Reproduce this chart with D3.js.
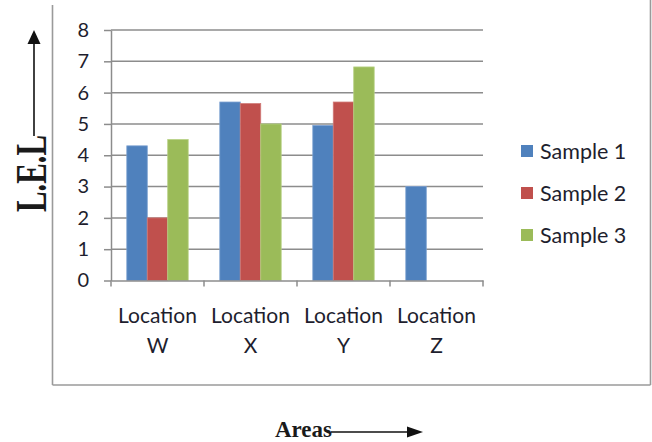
<!DOCTYPE html>
<html>
<head>
<meta charset="utf-8">
<script src="https://cdn.jsdelivr.net/npm/d3@7"></script>
<style>
  html, body { margin: 0; padding: 0; background: #fff; }
  svg { display: block; }
</style>
</head>
<body>
<svg id="chart" width="652" height="442"></svg>
<script>
// L.E.L readings per area, one array per sample
const categories = ["W", "X", "Y", "Z"];
const categoryPrefix = "Location";
const seriesNames = ["Sample 1", "Sample 2", "Sample 3"];
const sample1 = [4.3, 5.7, 4.95, 3.0];
const sample2 = [2.0, 5.65, 5.7, null];
const sample3 = [4.5, 5.0, 6.82, null];
const yTicks = [0, 1, 2, 3, 4, 5, 6, 7, 8];
const seriesColors = ["#4F81BD", "#C0504D", "#9BBB59"];
const seriesEdge = ["#7a9fd0", "#d07a77", "#b6d082"];

const seriesValues = [sample1, sample2, sample3];

const svg = d3.select("#chart");
const tickFont = "Lato, 'Open Sans', sans-serif";
const serif = "'Liberation Serif', 'DejaVu Serif', serif";
const textColor = "#1e1e2e";

// plot area
const plot = { left: 111, right: 483, top: 30, bottom: 280.5 };

const x0 = d3.scaleBand()
  .domain(categories)
  .range([plot.left, plot.right])
  .paddingInner(0.34)
  .paddingOuter(0.17);

const x1 = d3.scaleBand()
  .domain(seriesNames)
  .range([0, x0.bandwidth()]);

const y = d3.scaleLinear()
  .domain([0, 8])
  .range([plot.bottom, plot.top]);

// outer frame of the chart
const frame = svg.append("g").attr("stroke", "#9a9a9a").attr("stroke-width", 1.6).attr("fill", "none");
frame.append("line").attr("x1", 52.5).attr("x2", 52.5).attr("y1", 5).attr("y2", 385);
frame.append("line").attr("x1", 52.5).attr("x2", 650.5).attr("y1", 385).attr("y2", 385);
frame.append("line").attr("x1", 650.5).attr("x2", 650.5).attr("y1", 0).attr("y2", 385);

// horizontal gridlines
svg.append("g")
  .selectAll("line")
  .data(yTicks.filter(d => d > 0))
  .join("line")
  .attr("x1", plot.left)
  .attr("x2", plot.right)
  .attr("y1", d => y(d))
  .attr("y2", d => y(d))
  .attr("stroke", "#8c8c8c")
  .attr("stroke-width", 1.5);

// bars
const groups = svg.append("g")
  .selectAll("g")
  .data(categories)
  .join("g")
  .attr("transform", c => `translate(${x0(c)},0)`);

groups.selectAll("rect")
  .data((c, ci) => seriesNames.map((s, si) => ({ s, si, v: seriesValues[si][ci] })).filter(d => d.v != null))
  .join("rect")
  .attr("x", d => x1(d.s))
  .attr("width", x1.bandwidth())
  .attr("y", d => y(d.v))
  .attr("height", d => y(0) - y(d.v))
  .attr("fill", d => seriesColors[d.si])
  .attr("stroke", d => seriesEdge[d.si])
  .attr("stroke-width", 0.8);

// y axis
const yAxis = svg.append("g")
  .attr("transform", `translate(${plot.left},0)`)
  .call(d3.axisLeft(y).tickValues(yTicks).tickFormat(d3.format("d")).tickSize(7).tickSizeOuter(0).tickPadding(15));
yAxis.select(".domain").attr("stroke", "#8c8c8c").attr("stroke-width", 1.5);
yAxis.selectAll(".tick line").attr("stroke", "#8c8c8c").attr("stroke-width", 1.5);
yAxis.selectAll(".tick text")
  .attr("font-family", tickFont)
  .attr("font-size", 20)
  .attr("fill", textColor);

// x axis: baseline, boundary ticks and two-line labels
const xAxis = svg.append("g")
  .attr("transform", `translate(0,${plot.bottom})`)
  .call(d3.axisBottom(x0).tickSize(0).tickSizeOuter(0).tickPadding(0).tickFormat(""));
xAxis.select(".domain").attr("stroke", "#8c8c8c").attr("stroke-width", 1.5);

const step = x0.step();
const bounds = d3.range(categories.length + 1).map(i => plot.left + i * step);
xAxis.selectAll(".bound")
  .data(bounds)
  .join("line")
  .attr("class", "bound")
  .attr("x1", d => d).attr("x2", d => d)
  .attr("y1", 0).attr("y2", 6)
  .attr("stroke", "#8c8c8c")
  .attr("stroke-width", 1.5);

xAxis.selectAll(".tick").each(function (c) {
  const g = d3.select(this);
  const t = g.append("text")
    .attr("text-anchor", "middle")
    .attr("font-family", tickFont)
    .attr("font-size", 21)
    .attr("fill", textColor);
  t.append("tspan").attr("x", 0).attr("y", 42).text(categoryPrefix);
  t.append("tspan").attr("x", 0).attr("y", 72).text(c);
});

// legend
const legend = svg.append("g").attr("transform", "translate(521,151)");
const items = legend.selectAll("g")
  .data(seriesNames)
  .join("g")
  .attr("transform", (d, i) => `translate(0,${i * 42})`);
items.append("rect")
  .attr("x", 0).attr("y", -6)
  .attr("width", 12).attr("height", 12)
  .attr("fill", (d, i) => seriesColors[i]);
items.append("text")
  .attr("x", 19)
  .attr("y", 7.5)
  .attr("font-family", tickFont)
  .attr("font-size", 21.5)
  .attr("fill", textColor)
  .text(d => d);

// axis titles with arrows
svg.append("text")
  .attr("transform", "translate(46,173.5) rotate(-90)")
  .attr("text-anchor", "middle")
  .attr("font-family", serif)
  .attr("font-weight", "bold")
  .attr("font-size", 44)
  .attr("textLength", 77)
  .attr("lengthAdjust", "spacingAndGlyphs")
  .attr("fill", "#1a1a1a")
  .text("L.E.L");

svg.append("line")
  .attr("x1", 34).attr("x2", 34)
  .attr("y1", 136).attr("y2", 42)
  .attr("stroke", "#111").attr("stroke-width", 1.6);
svg.append("path")
  .attr("d", "M34,30 L27.5,44 L40.5,44 Z")
  .attr("fill", "#111");

svg.append("text")
  .attr("x", 275)
  .attr("y", 437)
  .attr("font-family", serif)
  .attr("font-weight", "bold")
  .attr("font-size", 23)
  .attr("textLength", 57)
  .attr("lengthAdjust", "spacingAndGlyphs")
  .attr("fill", "#1a1a1a")
  .text("Areas");

svg.append("line")
  .attr("x1", 331).attr("x2", 410)
  .attr("y1", 432).attr("y2", 432)
  .attr("stroke", "#111").attr("stroke-width", 1.6);
svg.append("path")
  .attr("d", "M423,432 L407,426.5 L407,437.5 Z")
  .attr("fill", "#111");
</script>
</body>
</html>
